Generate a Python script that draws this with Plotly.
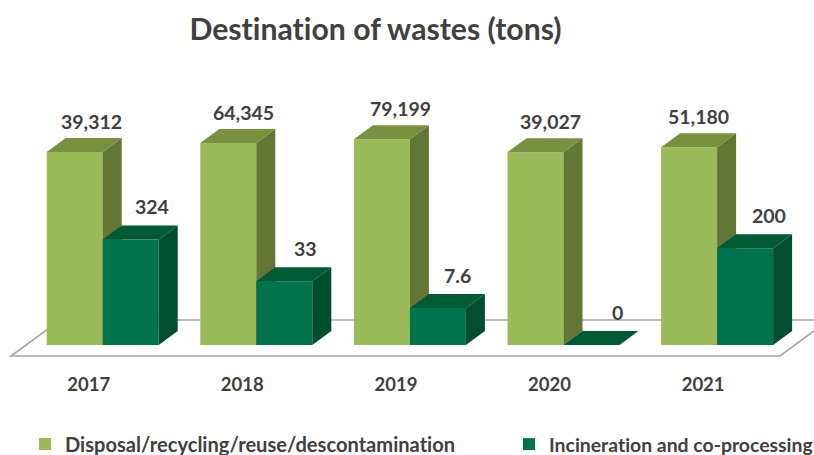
import numpy as np
import plotly.graph_objects as go

years = ["2017", "2018", "2019", "2020", "2021"]
disposal = [39312, 64345, 79199, 39027, 51180]
incineration = [324, 33, 7.6, 0, 200]
disposal_labels = ["39,312", "64,345", "79,199", "39,027", "51,180"]
incineration_labels = ["324", "33", "7.6", "0", "200"]
series_names = ["Disposal/recycling/reuse/descontamination", "Incineration and co-processing"]

# pixel geometry of the (logarithmic) oblique chart
W, H, BOT = 814, 455, 86
PITCH, X0, BAR_W = 153.6, 102.7, 56.0
DECADE, BASE_Y = 42.0, 345.0
DEPTH_X, DEPTH_Y = 19.0 / PITCH, 14.0 / DECADE
w = BAR_W / PITCH
TEXT = "#404040"
FONT = "Lato"


def lg(v):
    return np.log10(np.maximum(np.asarray(v, dtype=float), 1.0))


def faces(heights, left):
    sx, sy, tx, ty = [], [], [], []
    for k, h in enumerate(heights):
        a, b = k + left, k + left + w
        sx += [b, b + DEPTH_X, b + DEPTH_X, b, b, None]
        sy += [0, DEPTH_Y, h + DEPTH_Y, h, 0, None]
        tx += [a, b, b + DEPTH_X, a + DEPTH_X, a, None]
        ty += [h, h, h + DEPTH_Y, h + DEPTH_Y, h, None]
    return sx, sy, tx, ty


k = list(range(len(years)))
fig = go.Figure()


def add_series(vals, name, left, front, side, top, xa, ya, legend):
    h = lg(vals)
    fig.add_bar(x=k, y=h, width=w, offset=left, name=name, marker=dict(color=front, line=dict(width=0)),
                xaxis=xa, yaxis=ya, hoverinfo="skip", legend=legend)
    sx, sy, tx, ty = faces(h, left)
    for px, py, col in ((sx, sy, side), (tx, ty, top)):
        fig.add_scatter(x=px, y=py, mode="lines", fill="toself", fillcolor=col, line=dict(width=0, color=col),
                        showlegend=False, hoverinfo="skip", xaxis=xa, yaxis=ya)


add_series(disposal, series_names[0], -w, "#9BBB59", "#647636", "#779141", "x", "y", "legend")
add_series(incineration, series_names[1], 0, "#00734D", "#004D2F", "#005A36", "x2", "y2", "legend2")

x_range = [-X0 / PITCH, (W - X0) / PITCH]
y_range = [(BASE_Y - (H - BOT)) / DECADE, BASE_Y / DECADE]

annotations = []
light_shift = [17, 15, 18.5, 14.5, 9]
dark_shift = [21, 21, 20, 26, 24]
label_font = dict(family=FONT, size=19.5, color=TEXT, weight=700)
for i in k:
    annotations.append(dict(x=i - w / 2, y=lg(disposal)[i], xref="x", yref="y", text=disposal_labels[i],
                            showarrow=False, xshift=light_shift[i], yshift=31, font=label_font))
    annotations.append(dict(x=i + w / 2, y=lg(incineration)[i], xref="x", yref="y", text=incineration_labels[i],
                            showarrow=False, xshift=dark_shift[i], yshift=33, font=label_font))

fl, fr = (11 - X0) / PITCH, (780 - X0) / PITCH
fb, ff = 25 / DECADE, -11 / DECADE
dx = 49 / PITCH
floor = f"M{fl},{ff} L{fr},{ff} L{fr + dx},{fb} L{fl + dx},{fb} Z"

legend_y = ((H - BOT) - 444.5) / (H - BOT)

fig.update_layout(
    width=W, height=H, autosize=False,
    margin=dict(l=0, r=0, t=0, b=BOT, pad=0, autoexpand=False),
    paper_bgcolor="white", plot_bgcolor="white",
    title=dict(text="Destination of wastes (tons)", x=375.5 / W, xanchor="center", xref="paper",
               y=1 - 29 / H, yanchor="middle", yref="container",
               font=dict(family=FONT, size=30.2, color=TEXT, weight=700)),
    showlegend=True,
    legend=dict(x=25 / W, xanchor="left", y=legend_y, yanchor="middle", bgcolor="rgba(0,0,0,0)",
                font=dict(family=FONT, size=20.1, color=TEXT, weight=700)),
    legend2=dict(x=509 / W, xanchor="left", y=legend_y, yanchor="middle", bgcolor="rgba(0,0,0,0)",
                 font=dict(family=FONT, size=19.4, color=TEXT, weight=700)),
    xaxis=dict(range=x_range, showgrid=False, zeroline=False, showline=False, ticks="",
               tickmode="array", tickvals=[i - 14 / PITCH for i in k], ticktext=years, ticklabelstandoff=2,
               tickfont=dict(family=FONT, size=18.5, color=TEXT, weight=700), fixedrange=True),
    yaxis=dict(range=y_range, visible=False, fixedrange=True),
    xaxis2=dict(range=x_range, overlaying="x", visible=False, fixedrange=True),
    yaxis2=dict(range=y_range, overlaying="y", visible=False, fixedrange=True),
    shapes=[dict(type="path", path=floor, xref="x", yref="y", layer="below",
                 fillcolor="white", line=dict(color="#A6A6A6", width=1.6))],
    annotations=annotations,
)

post = """
document.body.style.margin='0';document.body.style.overflow='hidden';
var s=document.createElement('style');s.textContent='text{font-variant-ligatures:none;font-feature-settings:"liga" 0}';
document.head.appendChild(s);
"""
fig.write_html("out.html", config=dict(displayModeBar=False), post_script=post)
